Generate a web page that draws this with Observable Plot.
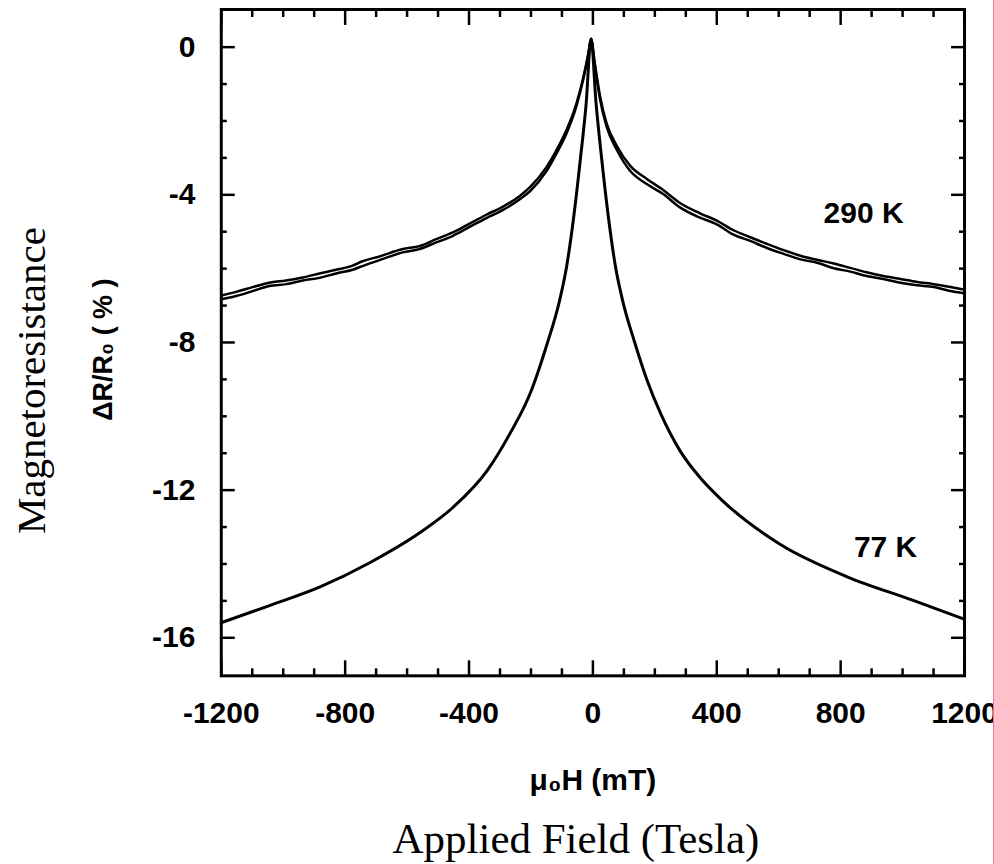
<!DOCTYPE html>
<html><head><meta charset="utf-8">
<script src="https://cdn.jsdelivr.net/npm/d3@7"></script>
<script src="https://cdn.jsdelivr.net/npm/@observablehq/plot@0.6"></script>
<style>
html,body{margin:0;padding:0;background:#fff;}
#wrap{width:993px;height:864px;border-right:1px solid #e27aa5;position:relative;overflow:hidden;background:#fff}
</style></head><body><div id="wrap"></div>
<script>
// Tick values
const xTicksMajor = [-1200, -800, -400, 0, 400, 800, 1200];
const xTicksMinor = [-1100, -1000, -900, -700, -600, -500, -300, -200, -100, 100, 200, 300, 500, 600, 700, 900, 1000, 1100];
const yTicksMajor = [0, -4, -8, -12, -16];
const yTicksMinor = [-1, -2, -3, -5, -6, -7, -9, -10, -11, -13, -14, -15];

// 77 K curve (mT, %)
const x77 = [-1200, -1042, -881, -719, -558, -452, -342, -268, -203, -148, -110, -85, -62, -40, -22, -6, 10, 28, 50, 73, 97, 135, 174, 220, 281, 350, 419, 603, 819, 1032, 1200];
const y77 = [-15.59, -15.12, -14.62, -13.96, -13.15, -12.47, -11.48, -10.47, -9.39, -8.04, -6.95, -5.95, -4.6, -3.0, -1.55, 0.23, -1.5, -3.0, -4.6, -5.95, -6.9, -8.0, -9.0, -9.95, -10.93, -11.7, -12.29, -13.46, -14.34, -14.98, -15.5];

// 290 K curve, two sweep branches (mT, %)
const x290 = [-1200, -1152, -1099, -1045, -991, -937, -883, -829, -776, -744, -689, -614, -560, -506, -452, -398, -344, -290, -236, -204, -150, -117, -85, -53, -31, -15, -6, 6, 23, 44, 77, 120, 174, 227, 281, 346, 400, 454, 508, 562, 616, 670, 724, 778, 831, 884, 938, 993, 1047, 1101, 1150, 1200];
const y290up = [-6.73, -6.63, -6.50, -6.38, -6.32, -6.24, -6.13, -6.03, -5.92, -5.80, -5.67, -5.47, -5.39, -5.20, -5.02, -4.78, -4.54, -4.32, -4.03, -3.80, -3.25, -2.78, -2.24, -1.52, -0.82, -0.18, 0.22, -0.43, -1.32, -2.06, -2.67, -3.21, -3.57, -3.87, -4.22, -4.50, -4.70, -4.96, -5.15, -5.33, -5.50, -5.65, -5.76, -5.86, -5.98, -6.10, -6.20, -6.28, -6.36, -6.42, -6.49, -6.57];
const y290down = [-6.83, -6.74, -6.61, -6.47, -6.42, -6.32, -6.25, -6.13, -6.03, -5.93, -5.77, -5.56, -5.47, -5.29, -5.11, -4.87, -4.63, -4.41, -4.12, -3.91, -3.36, -2.87, -2.33, -1.59, -0.87, -0.22, 0.22, -0.50, -1.41, -2.15, -2.78, -3.35, -3.71, -3.98, -4.34, -4.62, -4.80, -5.08, -5.25, -5.44, -5.60, -5.75, -5.84, -5.99, -6.08, -6.20, -6.28, -6.38, -6.45, -6.50, -6.60, -6.67];

// Curve labels
const curveLabels = ["290 K", "77 K"];
const curveLabelX = [874, 945];
const curveLabelY = [-4.51, -13.56];

const data77 = x77.map((x, i) => ({x, y: y77[i]}));
const dataUp = x290.map((x, i) => ({x, y: y290up[i]}));
const dataDown = x290.map((x, i) => ({x, y: y290down[i]}));
const labelData = curveLabels.map((t, i) => ({t, x: curveLabelX[i], y: curveLabelY[i]}));

const sans = "Liberation Sans, Arial, Helvetica, sans-serif";
const serif = "Liberation Serif, Times New Roman, serif";
const fmt = d => String(d);

const chart = Plot.plot({
  width: 994,
  height: 864,
  marginLeft: 221,
  marginRight: 29,
  marginTop: 9,
  marginBottom: 188,
  x: {domain: [-1200, 1200], label: null},
  y: {domain: [-17.03, 1.02], label: null},
  style: {background: "white", color: "black"},
  marks: [
    // minor & major ticks, pointing inward on all four sides
    Plot.axisX(xTicksMinor, {anchor: "bottom", tickSize: -7, strokeWidth: 2.5, fill: "none", label: null}),
    Plot.axisX(xTicksMajor, {anchor: "bottom", tickSize: -15, strokeWidth: 2.5, fill: "none", label: null}),
    Plot.axisX(xTicksMinor, {anchor: "top", tickSize: -7, strokeWidth: 2.5, fill: "none", label: null}),
    Plot.axisX(xTicksMajor, {anchor: "top", tickSize: -15, strokeWidth: 2.5, fill: "none", label: null}),
    Plot.axisY(yTicksMinor, {anchor: "left", tickSize: -6, strokeWidth: 2.5, fill: "none", label: null}),
    Plot.axisY(yTicksMajor, {anchor: "left", tickSize: -14, strokeWidth: 2.5, fill: "none", label: null}),
    Plot.axisY(yTicksMinor, {anchor: "right", tickSize: -6, strokeWidth: 2.5, fill: "none", label: null}),
    Plot.axisY(yTicksMajor, {anchor: "right", tickSize: -14, strokeWidth: 2.5, fill: "none", label: null}),
    // tick labels
    Plot.axisX(xTicksMajor, {anchor: "bottom", tickSize: 0, tickPadding: 26, tickFormat: fmt, fontSize: 30, fontWeight: "bold", fontFamily: sans, label: null}),
    Plot.axisY(yTicksMajor, {anchor: "left", tickSize: 0, tickPadding: 26, tickFormat: fmt, fontSize: 30, fontWeight: "bold", fontFamily: sans, label: null}),
    Plot.frame({stroke: "black", strokeWidth: 3}),
    // curves
    Plot.line(dataUp, {x: "x", y: "y", stroke: "black", strokeWidth: 2.5, curve: "monotone-x"}),
    Plot.line(dataDown, {x: "x", y: "y", stroke: "black", strokeWidth: 2.5, curve: "monotone-x"}),
    Plot.line(data77, {x: "x", y: "y", stroke: "black", strokeWidth: 3, curve: "monotone-x"}),
    Plot.text(labelData, {x: "x", y: "y", text: "t", fontSize: 30, fontWeight: "bold", fontFamily: sans, fill: "black"}),
    // axis titles
    Plot.text(["ΔR/R₀ ( % )"], {text: d => d, frameAnchor: "left", rotate: -90, dx: -109, dy: 7, lineAnchor: "bottom", textAnchor: "middle", fontSize: 27, fontWeight: "bold", fontFamily: sans, fill: "black"}),
    Plot.text(["Magnetoresistance"], {text: d => d, frameAnchor: "left", rotate: -90, dx: -176, dy: 38, lineAnchor: "bottom", textAnchor: "middle", fontSize: 41, fontFamily: serif, fill: "black"}),
    Plot.text(["μ₀H (mT)"], {text: d => d, frameAnchor: "bottom", dy: 114, lineAnchor: "bottom", textAnchor: "middle", fontSize: 30, fontWeight: "bold", fontFamily: sans, fill: "black"}),
    Plot.text(["Applied Field (Tesla)"], {text: d => d, frameAnchor: "bottom", dx: -17, dy: 177, lineAnchor: "bottom", textAnchor: "middle", fontSize: 43, fontFamily: serif, fill: "black"})
  ]
});
document.getElementById("wrap").appendChild(chart);
</script>
</body></html>
